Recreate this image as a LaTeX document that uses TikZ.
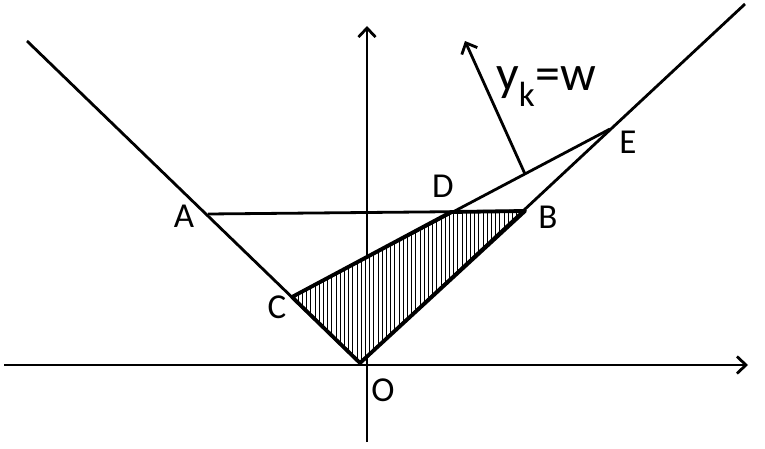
\documentclass[tikz,border=0pt]{standalone}
\usepackage{fontspec}
\setmainfont{Carlito}
\usetikzlibrary{arrows.meta,patterns.meta}
\tikzset{
    ln/.style={line width=2.8pt},
    ax/.style={line width=2.8pt,
        -{Straight Barb[length=9pt,width=17pt,line width=2.8pt]}},
    bd/.style={line width=3.8pt, line join=round},
    pt/.style={inner sep=0pt, font=\fontsize{35}{40}\selectfont}
}

\begin{document}
\begin{tikzpicture}[x=1pt,y=-1pt]
    \useasboundingbox (0,0) rectangle (765,449);

    % Points
    \coordinate (O) at (360,363);
    \coordinate (A) at (208,214);
    \coordinate (B) at (525,211);
    \coordinate (C) at (292,297);
    \coordinate (D) at (451,212);
    \coordinate (E) at (610,129);
    \coordinate (N) at (525,174);
    \coordinate (L) at (27,41);
    \coordinate (R) at (745,4);

    % Axes
    \coordinate (xl) at (4,365);
    \coordinate (xr) at (748,365);
    \coordinate (yb) at (367,442);
    \coordinate (yt) at (367,26);
    \draw[ax] (xl) -- (xr);
    \draw[ax] (yb) -- (yt);

    % Hatched region
    \fill [white] (C) -- (D) -- (B) -- (O) -- cycle;
    \fill [pattern={Lines[angle=90,distance=4.2pt,line width=0.9pt]}]
        (C) -- (D) -- (B) -- (O) -- cycle;

    % Cone and lines
    \draw[ln] (L) -- (O) -- (R);
    \draw[ln] (A) -- (B);
    \draw[ln] (C) -- (E);
    \coordinate (W) at (465,41);
    \draw[ax] (N) -- (W);
    \draw[bd] (C) -- (D) -- (B) -- (O) -- cycle;

    % Labels
    \node[pt] (lA) at (184,216) {A};
    \node[pt] (lB) at (548,217) {B};
    \node[pt] (lC) at (277,307) {C};
    \node[pt] (lD) at (443,186) {D};
    \node[pt] (lE) at (628,142) {E};
    \node[pt] (lO) at (383,390) {O};
    \node[inner sep=0pt, anchor=base west, font=\fontsize{50}{56}\selectfont]
        (lw) at (496,91) {y\textsubscript{k}=w};
\end{tikzpicture}
\end{document}
